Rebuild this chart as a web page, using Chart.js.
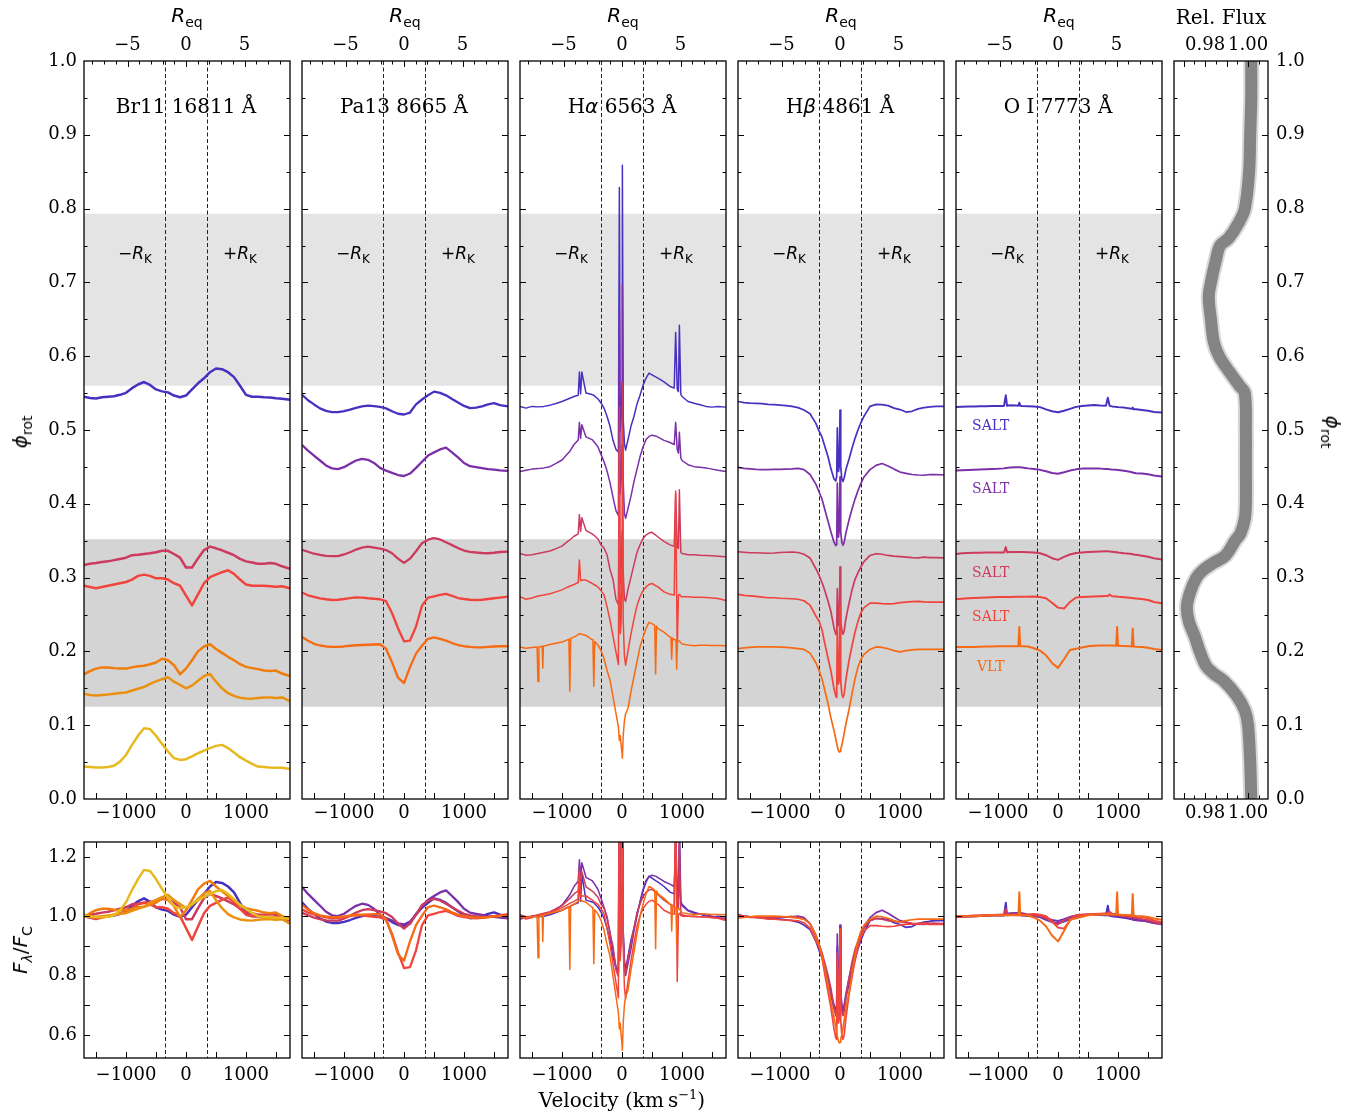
<!DOCTYPE html>
<html lang="en">
<head>
<meta charset="UTF-8">
<title>Line profile variability</title>
<script src="https://cdn.jsdelivr.net/npm/chart.js"></script>
<style>
  body { margin: 0; background: #fff; }
  #fig { position: relative; width: 1363px; height: 1113px; overflow: hidden; }
  #fig canvas { position: absolute; }
  .lab { position: absolute; white-space: nowrap; color: #000; line-height: 1; }
  .serif { font-family: "DejaVu Serif", serif; font-size: 20px; }
  .math { font-family: "DejaVu Sans", sans-serif; font-size: 20px; }
  .math i { font-style: italic; }
  .math sub { font-size: 14px; vertical-align: -5px; }
  .serif sup { font-size: 13px; vertical-align: 8px; }
</style>
</head>
<body>
<div id="fig"></div>
<script>
// ---------- velocity grids (km/s) ----------
const velBroad = [-1700, -1600, -1500, -1400, -1300, -1200, -1100, -1000, -900, -800,
                  -700, -600, -500, -400, -300, -200, -100, 0, 100, 200,
                  300, 400, 500, 600, 700, 800, 900, 1000, 1100, 1200,
                  1300, 1400, 1500, 1600, 1730];
const velHa = [-1700, -1600, -1500, -1400, -1300, -1200, -1100, -1000, -900, -870,
               -800, -730, -710, -690, -670, -600, -500, -470, -400, -350,
               -300, -250, -200, -150, -100, -60, -44, -30, -15, 0,
               6, 20, 40, 60, 100, 150, 200, 250, 300, 350,
               400, 450, 500, 560, 600, 700, 800, 870, 894, 920,
               940, 956, 980, 1000, 1100, 1200, 1300, 1400, 1500, 1600, 1730];
// VLT H-alpha spectrum has its own grid (narrow telluric dips)
const velHaVlt = [-1700, -1600, -1500, -1415, -1400, -1385, -1330, -1320, -1310, -1200,
                  -1100, -1000, -900, -885, -870, -855, -800, -730, -710, -690,
                  -670, -600, -500, -485, -470, -455, -400, -350, -300, -250,
                  -200, -150, -100, -60, -44, -30, -15, 0, 6, 20,
                  40, 60, 100, 150, 200, 250, 300, 350, 400, 450,
                  500, 545, 560, 575, 600, 700, 800, 815, 828, 841,
                  870, 900, 911, 922, 950, 1000, 1100, 1200, 1300, 1400,
                  1500, 1600, 1730];
const velHb = [-1700, -1600, -1500, -1400, -1300, -1200, -1100, -1000, -900, -800,
               -700, -600, -500, -400, -350, -300, -250, -200, -150, -100,
               -70, -55, -45, -25, -10, 0, 12, 30, 50, 70,
               100, 150, 200, 250, 300, 350, 400, 500, 600, 700,
               800, 900, 1000, 1100, 1200, 1300, 1400, 1500, 1600, 1730];
const velOI = [-1700, -1600, -1500, -1400, -1300, -1200, -1100, -1000, -900, -870,
               -850, -800, -700, -660, -645, -630, -600, -500, -400, -300,
               -200, -100, 0, 100, 200, 300, 400, 500, 600, 700,
               800, 830, 860, 900, 970, 985, 1000, 1100, 1200, 1230,
               1245, 1260, 1300, 1400, 1500, 1600, 1730];

// ---------- rotational phase of each spectrum ----------
const phaseBr11 = [0.545, 0.317, 0.289, 0.170, 0.141, 0.044];
const phasePa13 = [0.532, 0.447, 0.334, 0.272, 0.207];
const phaseHa   = [0.532, 0.447, 0.331, 0.274, 0.206];
const phaseHb   = [0.537, 0.448, 0.335, 0.276, 0.206];
const phaseOI   = [0.532, 0.446, 0.333, 0.272, 0.206];

// ---------- normalised flux F/Fc ----------
const br11Blue = [1.000, 0.995, 0.993, 0.998, 1.000, 1.002, 1.008, 1.016, 1.035, 1.050,
                  1.060, 1.048, 1.030, 1.022, 1.018, 1.005, 0.998, 1.005, 1.030, 1.055,
                  1.075, 1.100, 1.115, 1.112, 1.100, 1.080, 1.045, 1.008, 1.000, 1.000,
                  0.998, 0.997, 0.994, 0.992, 0.988];
const br11Crimson = [1.000, 1.005, 1.008, 1.012, 1.015, 1.020, 1.025, 1.030, 1.040, 1.042,
                     1.045, 1.048, 1.052, 1.058, 1.058, 1.045, 1.030, 0.990, 0.990, 1.027,
                     1.061, 1.075, 1.068, 1.060, 1.050, 1.040, 1.025, 1.015, 1.010, 1.005,
                     1.005, 1.008, 1.005, 0.995, 0.985];
const br11Red = [1.000, 0.995, 0.990, 0.995, 1.000, 1.005, 1.010, 1.015, 1.025, 1.040,
                 1.045, 1.040, 1.030, 1.030, 1.025, 1.010, 1.000, 0.960, 0.920, 0.965,
                 1.010, 1.035, 1.045, 1.055, 1.063, 1.048, 1.025, 1.005, 1.000, 1.000,
                 1.000, 0.998, 0.996, 0.998, 0.990];
const br11Orange = [0.997, 1.010, 1.020, 1.025, 1.025, 1.022, 1.020, 1.020, 1.025, 1.030,
                    1.032, 1.038, 1.045, 1.060, 1.054, 1.034, 0.997, 1.020, 1.054, 1.090,
                    1.110, 1.119, 1.100, 1.084, 1.068, 1.054, 1.038, 1.027, 1.022, 1.018,
                    1.012, 1.010, 1.012, 1.000, 0.990];
const br11Amber = [1.005, 1.000, 0.998, 1.000, 1.002, 1.005, 1.008, 1.010, 1.018, 1.025,
                   1.032, 1.045, 1.055, 1.064, 1.072, 1.054, 1.041, 1.027, 1.038, 1.058,
                   1.077, 1.085, 1.054, 1.027, 1.007, 0.996, 0.989, 0.986, 0.985, 0.988,
                   0.990, 0.990, 0.988, 0.990, 0.975];
const br11Yellow = [1.000, 0.998, 0.996, 0.996, 0.998, 1.003, 1.020, 1.047, 1.088, 1.125,
                    1.156, 1.152, 1.125, 1.092, 1.061, 1.034, 1.027, 1.030, 1.041, 1.054,
                    1.065, 1.075, 1.084, 1.088, 1.075, 1.057, 1.038, 1.024, 1.011, 1.000,
                    0.998, 0.996, 0.995, 0.995, 0.990];

const pa13Blue = [1.047, 1.025, 1.008, 0.992, 0.982, 0.977, 0.977, 0.981, 0.987, 0.994,
                  1.000, 1.003, 1.001, 0.998, 0.992, 0.980, 0.970, 0.967, 0.975, 1.008,
                  1.028, 1.045, 1.060, 1.055, 1.045, 1.030, 1.016, 1.002, 0.993, 0.995,
                  1.000, 1.008, 1.013, 1.005, 1.000];
const pa13Purple = [1.098, 1.075, 1.055, 1.035, 1.015, 1.003, 1.000, 1.008, 1.022, 1.035,
                    1.042, 1.038, 1.025, 1.005, 0.994, 0.985, 0.976, 0.972, 0.982, 1.005,
                    1.030, 1.055, 1.068, 1.080, 1.087, 1.068, 1.048, 1.025, 1.012, 1.008,
                    1.004, 1.000, 0.998, 0.995, 0.993];
const pa13Crimson = [1.011, 1.003, 0.995, 0.990, 0.986, 0.985, 0.985, 0.992, 1.001, 1.012,
                     1.020, 1.024, 1.020, 1.016, 1.010, 0.997, 0.975, 0.958, 0.975, 1.005,
                     1.038, 1.052, 1.058, 1.053, 1.042, 1.030, 1.018, 1.008, 1.003, 1.000,
                     0.998, 0.997, 0.999, 1.002, 1.004];
const pa13Red = [1.023, 1.012, 1.006, 1.000, 0.996, 0.993, 0.994, 0.997, 1.001, 1.004,
                 1.003, 1.000, 0.998, 0.996, 0.988, 0.940, 0.878, 0.825, 0.828, 0.885,
                 0.970, 1.003, 1.008, 1.014, 1.018, 1.010, 1.001, 0.997, 0.994, 0.993,
                 0.994, 0.997, 1.000, 1.003, 1.007];
const pa13Orange = [1.038, 1.022, 1.010, 1.003, 0.999, 0.997, 0.997, 0.999, 1.002, 1.004,
                    1.005, 1.006, 1.007, 1.008, 0.990, 0.935, 0.872, 0.850, 0.915, 0.970,
                    1.002, 1.030, 1.036, 1.030, 1.023, 1.013, 1.005, 1.000, 0.997, 0.995,
                    0.995, 0.997, 0.999, 1.000, 1.000];

const haBlue = [1.000, 0.993, 1.000, 0.998, 1.000, 1.005, 1.012, 1.020, 1.030, 1.033,
                1.040, 1.045, 1.140, 1.050, 1.140, 1.054, 1.048, 1.045, 1.030, 1.014,
                0.993, 0.960, 0.919, 0.862, 0.825, 0.815, 1.890, 0.900, 0.950, 1.100,
                1.980, 0.950, 0.850, 0.822, 0.865, 0.920, 0.960, 1.010, 1.045, 1.085,
                1.115, 1.135, 1.128, 1.120, 1.115, 1.100, 1.081, 1.075, 1.300, 1.070,
                1.060, 1.330, 1.050, 1.040, 1.020, 1.013, 1.007, 1.000, 0.997, 1.000, 0.997];
const haPurple = [0.990, 0.995, 1.000, 1.002, 1.005, 1.010, 1.023, 1.037, 1.064, 1.072,
                  1.100, 1.118, 1.190, 1.125, 1.180, 1.131, 1.120, 1.112, 1.090, 1.060,
                  1.030, 0.993, 0.945, 0.885, 0.830, 0.812, 1.650, 0.900, 0.950, 1.100,
                  1.750, 0.950, 0.820, 0.800, 0.840, 0.890, 0.950, 1.000, 1.050, 1.090,
                  1.120, 1.133, 1.138, 1.135, 1.130, 1.117, 1.108, 1.100, 1.190, 1.080,
                  1.065, 1.150, 1.045, 1.035, 1.018, 1.010, 1.008, 1.005, 1.000, 0.995, 0.990];
const haCrimson = [1.005, 0.998, 1.000, 1.005, 1.010, 1.015, 1.025, 1.035, 1.055, 1.060,
                   1.075, 1.085, 1.163, 1.095, 1.150, 1.099, 1.085, 1.080, 1.064, 1.040,
                   1.027, 1.000, 0.940, 0.900, 0.818, 0.797, 1.600, 0.880, 0.930, 1.100,
                   1.700, 0.930, 0.820, 0.810, 0.860, 0.910, 0.960, 1.010, 1.040, 1.066,
                   1.080, 1.088, 1.091, 1.080, 1.072, 1.054, 1.040, 1.034, 1.250, 1.030,
                   1.025, 1.264, 1.010, 1.005, 1.000, 1.000, 0.998, 0.997, 0.996, 0.994, 0.992];
const haRed = [1.000, 0.990, 0.995, 1.003, 1.007, 1.012, 1.020, 1.028, 1.040, 1.043,
               1.050, 1.058, 1.150, 1.065, 1.068, 1.068, 1.055, 1.050, 1.040, 1.025,
               1.008, 0.960, 0.905, 0.840, 0.775, 0.725, 1.600, 0.850, 0.900, 1.100,
               1.680, 0.900, 0.760, 0.722, 0.780, 0.850, 0.910, 0.965, 1.000, 1.025,
               1.040, 1.050, 1.054, 1.045, 1.040, 1.020, 1.010, 1.007, 1.430, 0.780,
               1.005, 1.010, 1.003, 1.000, 1.000, 0.998, 0.998, 0.997, 0.995, 0.993, 0.985];
const haOrange = [1.000, 0.995, 0.998, 1.000, 0.860, 1.000, 1.003, 0.915, 1.003, 1.010,
                  1.015, 1.020, 1.030, 1.032, 0.820, 1.035, 1.040, 1.050, 1.054, 1.054,
                  1.052, 1.047, 1.030, 1.027, 0.840, 1.022, 1.007, 0.986, 0.953, 0.905,
                  0.865, 0.797, 0.729, 0.675, 0.620, 0.640, 0.600, 0.570, 0.548, 0.640,
                  0.700, 0.729, 0.750, 0.820, 0.880, 0.940, 1.000, 1.040, 1.075, 1.100,
                  1.095, 1.088, 0.890, 1.085, 1.075, 1.060, 1.040, 1.038, 0.950, 1.036,
                  1.030, 1.028, 0.910, 1.026, 1.025, 1.012, 1.008, 1.005, 1.007, 1.007,
                  1.006, 1.006, 1.005];

const hbBlue = [1.005, 1.000, 0.998, 0.997, 0.996, 0.993, 0.992, 0.990, 0.988, 0.985,
                0.980, 0.970, 0.955, 0.915, 0.885, 0.860, 0.820, 0.780, 0.730, 0.690,
                0.682, 0.700, 0.898, 0.720, 0.750, 0.970, 0.740, 0.690, 0.680, 0.695,
                0.730, 0.770, 0.815, 0.855, 0.890, 0.920, 0.945, 0.985, 0.993, 0.992,
                0.988, 0.978, 0.972, 0.962, 0.965, 0.975, 0.980, 0.983, 0.985, 0.985];
const hbPurple = [1.004, 1.000, 0.998, 0.996, 0.995, 0.995, 0.996, 0.996, 0.997, 0.998,
                  1.000, 0.995, 0.975, 0.935, 0.905, 0.875, 0.830, 0.785, 0.740, 0.700,
                  0.686, 0.690, 0.940, 0.720, 0.760, 0.966, 0.740, 0.700, 0.688, 0.700,
                  0.740, 0.790, 0.835, 0.875, 0.910, 0.940, 0.965, 0.995, 1.012, 1.020,
                  1.010, 0.997, 0.985, 0.980, 0.975, 0.973, 0.972, 0.975, 0.975, 0.973];
const hbCrimson = [1.000, 0.998, 0.996, 0.996, 0.995, 0.994, 0.995, 0.997, 0.998, 0.999,
                   0.997, 0.990, 0.975, 0.930, 0.905, 0.875, 0.840, 0.800, 0.755, 0.690,
                   0.665, 0.662, 0.850, 0.700, 0.720, 0.939, 0.720, 0.680, 0.665, 0.680,
                   0.730, 0.790, 0.845, 0.888, 0.915, 0.940, 0.960, 0.985, 0.992, 0.990,
                   0.985, 0.982, 0.980, 0.978, 0.976, 0.975, 0.978, 0.976, 0.976, 0.975];
const hbRed = [1.004, 1.000, 0.998, 0.996, 0.993, 0.990, 0.990, 0.988, 0.987, 0.986,
               0.984, 0.978, 0.960, 0.915, 0.895, 0.860, 0.800, 0.745, 0.690, 0.620,
               0.590, 0.585, 0.875, 0.640, 0.660, 0.957, 0.650, 0.600, 0.585, 0.600,
               0.660, 0.735, 0.795, 0.850, 0.895, 0.930, 0.950, 0.968, 0.968, 0.966,
               0.965, 0.966, 0.970, 0.972, 0.974, 0.975, 0.973, 0.972, 0.972, 0.972];
const hbOrange = [0.993, 0.996, 0.998, 1.000, 1.000, 1.000, 1.000, 0.999, 0.998, 0.996,
                  0.993, 0.990, 0.975, 0.935, 0.905, 0.870, 0.820, 0.770, 0.710, 0.660,
                  0.625, 0.607, 0.595, 0.578, 0.573, 0.575, 0.585, 0.600, 0.625, 0.650,
                  0.690, 0.745, 0.810, 0.870, 0.919, 0.950, 0.970, 0.990, 1.000, 0.998,
                  0.993, 0.985, 0.980, 0.985, 0.988, 0.990, 0.990, 0.990, 0.990, 0.990];

const oiBlue = [0.997, 0.999, 1.000, 1.000, 1.001, 1.001, 1.002, 1.002, 1.002, 1.045,
                1.003, 1.005, 1.004, 1.003, 1.015, 1.003, 1.002, 1.001, 1.000, 0.997,
                0.988, 0.980, 0.976, 0.982, 0.990, 0.998, 1.002, 1.004, 1.006, 1.004,
                1.003, 1.035, 1.002, 1.000, 0.998, 0.998, 0.997, 0.995, 0.991, 0.990,
                0.995, 0.988, 0.988, 0.985, 0.982, 0.977, 0.975];
const oiPurple = [0.997, 0.998, 0.999, 1.000, 1.001, 1.002, 1.003, 1.004, 1.006, 1.008,
                  1.008, 1.010, 1.011, 1.011, 1.011, 1.011, 1.010, 1.006, 1.003, 1.000,
                  0.994, 0.987, 0.984, 0.990, 0.997, 1.002, 1.005, 1.006, 1.006, 1.005,
                  1.003, 1.003, 1.002, 1.001, 1.000, 1.000, 0.999, 0.996, 0.992, 0.990,
                  0.989, 0.988, 0.986, 0.985, 0.982, 0.977, 0.973];
const oiCrimson = [0.997, 1.000, 1.001, 1.002, 1.002, 1.003, 1.003, 1.003, 1.003, 1.025,
                   1.004, 1.005, 1.005, 1.005, 1.005, 1.005, 1.005, 1.004, 1.003, 1.000,
                   0.992, 0.980, 0.973, 0.985, 0.995, 1.001, 1.003, 1.005, 1.006, 1.007,
                   1.008, 1.008, 1.007, 1.006, 1.004, 1.004, 1.003, 1.000, 0.998, 0.997,
                   0.996, 0.995, 0.994, 0.990, 0.986, 0.980, 0.975];
const oiRed = [0.996, 0.998, 1.000, 1.001, 1.002, 1.003, 1.004, 1.005, 1.005, 1.005,
               1.005, 1.005, 1.006, 1.006, 1.006, 1.006, 1.006, 1.006, 1.007, 1.005,
               1.000, 0.982, 0.962, 0.958, 0.985, 1.003, 1.005, 1.006, 1.007, 1.008,
               1.009, 1.009, 1.015, 1.008, 1.007, 1.007, 1.006, 1.004, 1.002, 1.001,
               1.000, 1.000, 0.999, 0.997, 0.993, 0.985, 0.980];
const oiOrange = [1.000, 1.000, 1.000, 1.000, 1.001, 1.002, 1.002, 1.003, 1.003, 1.003,
                  1.003, 1.003, 1.003, 1.003, 1.081, 1.003, 1.003, 1.002, 0.995, 0.985,
                  0.966, 0.935, 0.915, 0.950, 0.988, 0.993, 0.998, 1.003, 1.005, 1.006,
                  1.006, 1.006, 1.006, 1.006, 1.005, 1.081, 1.005, 1.004, 1.003, 1.002,
                  1.075, 1.002, 1.001, 1.000, 0.997, 0.992, 0.988];

// ---------- photometric light curve (right panel) ----------
const lcPhase = [0.00, 0.05, 0.10, 0.12, 0.14, 0.16, 0.17, 0.18, 0.20, 0.22,
                 0.24, 0.26, 0.28, 0.30, 0.31, 0.32, 0.33, 0.35, 0.36, 0.38,
                 0.40, 0.45, 0.50, 0.55, 0.56, 0.58, 0.60, 0.62, 0.65, 0.68,
                 0.70, 0.73, 0.75, 0.76, 0.78, 0.80, 0.85, 0.90, 0.95, 1.00];
const lcFlux = [1.0015, 1.0010, 1.0000, 0.9985, 0.9947, 0.9887, 0.9840, 0.9805, 0.9775, 0.9752,
                0.9725, 0.9715, 0.9730, 0.9760, 0.9790, 0.9840, 0.9895, 0.9940, 0.9965, 0.9985,
                0.9990, 0.9990, 0.9990, 0.9985, 0.9960, 0.9910, 0.9865, 0.9840, 0.9827, 0.9817,
                0.9827, 0.9850, 0.9870, 0.9910, 0.9955, 0.9985, 1.0005, 1.0010, 1.0015, 1.0015];

// ---------- shaded phase ranges, instrument tags ----------
const lightBand = [0.560, 0.793];
const darkBand = [0.125, 0.352];
const oiTags = ['SALT', 'SALT', 'SALT', 'SALT', 'VLT'];
const oiTagPhase = [0.500, 0.415, 0.301, 0.241, 0.173];

// ---------- tick labels ----------
const velLabels = [-1000, 0, 1000];
const velTicks = [-1500, -1000, -500, 0, 500, 1000, 1500];
const reqLabels = [-5, 0, 5];
const reqMinor = [-8, -7, -6, -4, -3, -2, -1, 1, 2, 3, 4, 6, 7, 8];
const phaseLabels = [0, 0.1, 0.2, 0.3, 0.4, 0.5, 0.6, 0.7, 0.8, 0.9, 1.0];
const phaseMinor = [0.05, 0.15, 0.25, 0.35, 0.45, 0.55, 0.65, 0.75, 0.85, 0.95];
const fluxLabels = [0.6, 0.8, 1.0, 1.2];
const fluxTicks = [0.6, 0.7, 0.8, 0.9, 1.0, 1.1, 1.2];
const relFluxLabels = [0.98, 1.00];
const relFluxMajor = [0.97, 0.98, 0.99, 1.00];
const relFluxMinor = [0.965, 0.975, 0.985, 0.995, 1.005];

const VMIN = -1700, VMAX = 1733;   // velocity range of every panel
const VEQ = 195;                   // km/s per R_eq (top axis)
const RK = 345;                    // velocity of +-R_K dashed lines
const STRETCH = 1 / 3;             // phase units per unit of F/Fc in upper panels

const cBlue = '#4a30c0', cPurple = '#7b2fa8', cCrimson = '#cc3a5e', cRed = '#f1443c',
      cOrange = '#f76a14', cOrangeBr = '#f07c0c', cAmber = '#eb910f', cYellow = '#e6ba1e';

const SERIF = "'DejaVu Serif'", SANS = "'DejaVu Sans'";
const TITLE = '20px ' + SERIF, TITLE_I = 'italic 20px ' + SANS;

const lines = [
  {title: [['Br11 16811 Å', TITLE]], vel: [velBroad, velBroad, velBroad, velBroad, velBroad, velBroad],
   phase: phaseBr11, lw: 2.5,
   flux: [br11Blue, br11Crimson, br11Red, br11Orange, br11Amber, br11Yellow],
   color: [cBlue, cCrimson, cRed, cOrangeBr, cAmber, cYellow]},
  {title: [['Pa13 8665 Å', TITLE]], vel: [velBroad, velBroad, velBroad, velBroad, velBroad],
   phase: phasePa13, lw: 2.3,
   flux: [pa13Blue, pa13Purple, pa13Crimson, pa13Red, pa13Orange],
   color: [cBlue, cPurple, cCrimson, cRed, cOrange]},
  {title: [['H', TITLE], ['α', TITLE_I], [' 6563 Å', TITLE]], vel: [velHa, velHa, velHa, velHa, velHaVlt],
   phase: phaseHa, lw: 1.5,
   flux: [haBlue, haPurple, haCrimson, haRed, haOrange],
   color: [cBlue, cPurple, cCrimson, cRed, cOrange]},
  {title: [['H', TITLE], ['β', TITLE_I], [' 4861 Å', TITLE]], vel: [velHb, velHb, velHb, velHb, velHb],
   phase: phaseHb, lw: 1.7,
   flux: [hbBlue, hbPurple, hbCrimson, hbRed, hbOrange],
   color: [cBlue, cPurple, cCrimson, cRed, cOrange]},
  {title: [['O I 7773 Å', TITLE]], vel: [velOI, velOI, velOI, velOI, velOI],
   phase: phaseOI, lw: 2.0,
   flux: [oiBlue, oiPurple, oiCrimson, oiRed, oiOrange],
   color: [cBlue, cPurple, cCrimson, cRed, cOrange]}
];

const panelLeft = [84, 302, 520, 738, 956];
const PW = 206, UP_TOP = 61, UP_H = 738, LO_TOP = 842, LO_H = 216;

Chart.defaults.font.family = "'DejaVu Serif', serif";
const fig = document.getElementById('fig');

function fmt(v, d) {
  return (v < -1e-9 ? '\u2212' : '') + Math.abs(v).toFixed(d);
}

function drawRich(ctx, parts, x, y, color) {
  let w = 0;
  parts.forEach(p => { ctx.font = p[1]; w += ctx.measureText(p[0]).width; });
  let cx = x - w / 2;
  ctx.fillStyle = color || '#000';
  ctx.textAlign = 'left';
  ctx.textBaseline = 'alphabetic';
  parts.forEach(p => {
    ctx.font = p[1];
    ctx.fillText(p[0], cx, y + (p[2] || 0));
    cx += ctx.measureText(p[0]).width;
  });
}

function decorPlugin(cfg) {
  return {
    id: 'decor',
    beforeDatasetsDraw(chart) {
      const {ctx, chartArea: a, scales} = chart;
      ctx.save();
      (cfg.bands || []).forEach(b => {
        const y1 = scales.y.getPixelForValue(b[1]), y2 = scales.y.getPixelForValue(b[0]);
        ctx.fillStyle = b[2];
        ctx.fillRect(a.left, y1, a.right - a.left, y2 - y1);
      });
      if (cfg.rk) {
        ctx.strokeStyle = '#222';
        ctx.lineWidth = 1;
        ctx.setLineDash([4, 2.5]);
        [-RK, RK].forEach(v => {
          const px = Math.round(scales.x.getPixelForValue(v)) + 0.5;
          ctx.beginPath(); ctx.moveTo(px, a.top); ctx.lineTo(px, a.bottom); ctx.stroke();
        });
      }
      ctx.restore();
    },
    afterDraw(chart) {
      const {ctx, chartArea: a, scales} = chart;
      ctx.save();
      ctx.strokeStyle = '#000';
      ctx.lineWidth = 1;
      cfg.ticks.forEach(t => {
        const s = scales[t[0]], side = t[1], len = t[3];
        ctx.beginPath();
        t[2].forEach(v => {
          const p = Math.round(s.getPixelForValue(v)) + 0.5;
          if (side === 'bottom' || side === 'top') {
            if (p <= a.left + 1 || p >= a.right - 1) return;
            const y0 = side === 'bottom' ? a.bottom : a.top;
            ctx.moveTo(p, y0); ctx.lineTo(p, side === 'bottom' ? y0 - len : y0 + len);
          } else {
            if (p <= a.top + 1 || p >= a.bottom - 1) return;
            const x0 = side === 'left' ? a.left : a.right;
            ctx.moveTo(x0, p); ctx.lineTo(side === 'left' ? x0 + len : x0 - len, p);
          }
        });
        ctx.stroke();
      });
      ctx.lineWidth = 1.3;
      ctx.strokeRect(a.left, a.top, a.right - a.left, a.bottom - a.top);
      (cfg.texts || []).forEach(tx =>
        drawRich(ctx, tx.parts, scales.x.getPixelForValue(tx.x), scales.y.getPixelForValue(tx.y), tx.color));
      ctx.restore();
    }
  };
}

function panel(cfg) {
  const [pt, pr, pb, pl] = cfg.pad;
  const cv = document.createElement('canvas');
  cv.width = cfg.w + pl + pr;
  cv.height = cfg.h + pt + pb;
  cv.style.left = (cfg.left - pl) + 'px';
  cv.style.top = (cfg.top - pt) + 'px';
  fig.appendChild(cv);
  const sizes = {top: pt, right: pr, bottom: pb, left: pl};
  const scales = {};
  Object.entries(cfg.axes).forEach(([id, ax]) => {
    scales[id] = {
      type: 'linear', position: ax.pos, min: ax.min, max: ax.max,
      grid: {display: false, drawTicks: false},
      border: {display: false},
      ticks: {
        display: !!ax.show, padding: ax.pad || 4, color: '#000',
        autoSkip: false, maxRotation: 0, minRotation: 0,
        font: {family: "'DejaVu Serif', serif", size: 18},
        callback: v => fmt(v, ax.dec)
      },
      afterBuildTicks: s => { s.ticks = ax.labels.map(v => ({value: v})); },
      afterFit: s => {
        if (ax.pos === 'top' || ax.pos === 'bottom') s.height = sizes[ax.pos];
        else s.width = sizes[ax.pos];
      }
    };
  });
  return new Chart(cv, {
    type: 'line',
    data: {datasets: cfg.datasets},
    options: {
      responsive: false, animation: false, events: [],
      indexAxis: cfg.indexAxis || 'x',
      layout: {padding: 0},
      plugins: {legend: {display: false}, tooltip: {enabled: false}},
      scales
    },
    plugins: [decorPlugin(cfg)]
  });
}

function lineSet(line, upper) {
  return line.flux.map((f, k) => ({
    data: line.vel[k].map((v, j) => ({x: v, y: upper ? line.phase[k] + (f[j] - 1) * STRETCH : f[j]})),
    borderColor: line.color[k],
    borderWidth: line.lw,
    borderJoinStyle: 'round',
    pointRadius: 0,
    tension: 0,
    fill: false
  })).reverse();
}

lines.forEach((line, i) => {
  const texts = [
    {parts: line.title, x: 0, y: 0.930},
    {parts: [['\u2212', '17px ' + SANS], ['R', 'italic 17px ' + SANS], ['K', '12px ' + SANS, 4]], x: -850, y: 0.732},
    {parts: [['+', '17px ' + SANS], ['R', 'italic 17px ' + SANS], ['K', '12px ' + SANS, 4]], x: 900, y: 0.732}
  ];
  if (i === 4) {
    oiTags.forEach((t, k) => texts.push({parts: [[t, '14px ' + SERIF]], x: -1122, y: oiTagPhase[k], color: line.color[k]}));
  }
  // upper panel: spectra offset to their rotational phase
  panel({
    left: panelLeft[i], top: UP_TOP, w: PW, h: UP_H, pad: [60, 80, 40, 80],
    datasets: lineSet(line, true),
    axes: {
      x: {pos: 'bottom', min: VMIN, max: VMAX, labels: velLabels, dec: 0, show: true, pad: 4},
      x2: {pos: 'top', min: VMIN / VEQ, max: VMAX / VEQ, labels: reqLabels, dec: 0, show: true, pad: 5},
      y: {pos: 'left', min: 0, max: 1, labels: phaseLabels, dec: 1, show: i === 0, pad: 7},
      y2: {pos: 'right', min: 0, max: 1, labels: phaseLabels, dec: 1, show: false}
    },
    bands: [[lightBand[0], lightBand[1], '#e4e4e4'], [darkBand[0], darkBand[1], '#d4d4d4']],
    rk: true,
    texts,
    ticks: [['x', 'bottom', velTicks, 6], ['x2', 'top', reqLabels, 6], ['x2', 'top', reqMinor, 3.5],
            ['y', 'left', phaseLabels, 6], ['y', 'left', phaseMinor, 3.5],
            ['y', 'right', phaseLabels, 6], ['y', 'right', phaseMinor, 3.5]]
  });
  // lower panel: all spectra overplotted
  panel({
    left: panelLeft[i], top: LO_TOP, w: PW, h: LO_H, pad: [30, 80, 40, 80],
    datasets: lineSet(line, false),
    axes: {
      x: {pos: 'bottom', min: VMIN, max: VMAX, labels: velLabels, dec: 0, show: true, pad: 7},
      x2: {pos: 'top', min: VMIN, max: VMAX, labels: velLabels, dec: 0, show: false},
      y: {pos: 'left', min: 0.522, max: 1.25, labels: fluxLabels, dec: 1, show: i === 0, pad: 7},
      y2: {pos: 'right', min: 0.522, max: 1.25, labels: fluxLabels, dec: 1, show: false}
    },
    rk: true,
    ticks: [['x', 'bottom', velTicks, 6], ['x', 'top', velTicks, 6],
            ['y', 'left', fluxTicks, 6], ['y', 'right', fluxTicks, 6]]
  });
});

// light curve panel
const lcData = lcPhase.map((p, i) => ({x: lcFlux[i], y: p}));
panel({
  left: 1174, top: UP_TOP, w: 94, h: UP_H, pad: [60, 70, 40, 40],
  indexAxis: 'y',
  datasets: [
    {data: lcData, borderColor: 'rgba(128,128,128,0.95)', borderWidth: 12, pointRadius: 0, tension: 0.35, borderJoinStyle: 'round'},
    {data: lcData, borderColor: 'rgba(140,140,140,0.35)', borderWidth: 16, pointRadius: 0, tension: 0.35, borderJoinStyle: 'round'}
  ],
  axes: {
    x: {pos: 'bottom', min: 0.9655, max: 1.0093, labels: relFluxLabels, dec: 2, show: true, pad: 4},
    x2: {pos: 'top', min: 0.9655, max: 1.0093, labels: relFluxLabels, dec: 2, show: true, pad: 5},
    y: {pos: 'left', min: 0, max: 1, labels: phaseLabels, dec: 1, show: false},
    y2: {pos: 'right', min: 0, max: 1, labels: phaseLabels, dec: 1, show: true, pad: 8}
  },
  ticks: [['x', 'bottom', relFluxMajor, 6], ['x', 'bottom', relFluxMinor, 3.5],
          ['x2', 'top', relFluxMajor, 6], ['x2', 'top', relFluxMinor, 3.5],
          ['y', 'left', phaseLabels, 6], ['y', 'left', phaseMinor, 3.5],
          ['y', 'right', phaseLabels, 6], ['y', 'right', phaseMinor, 3.5]]
});

// axis titles
function label(html, cls, cx, cy, rot) {
  const d = document.createElement('div');
  d.className = 'lab ' + cls;
  d.innerHTML = html;
  d.style.left = cx + 'px';
  d.style.top = cy + 'px';
  d.style.transform = 'translate(-50%, -50%) rotate(' + (rot || 0) + 'deg)';
  fig.appendChild(d);
}
panelLeft.forEach(l => label('<i>R</i><sub>eq</sub>', 'math', l + 103, 17));
label('Rel. Flux', 'serif', 1221, 17);
label('<i>ϕ</i><sub>rot</sub>', 'math', 22, 432, -90);
label('<i>ϕ</i><sub>rot</sub>', 'math', 1331, 432, 90);
label('<i>F</i><sub><i>λ</i></sub>/<i>F</i><sub>C</sub>', 'math', 22, 950, -90);
label('Velocity (km\u2009s<sup>\u22121</sup>)', 'serif', 622, 1099);
</script>
</body>
</html>
